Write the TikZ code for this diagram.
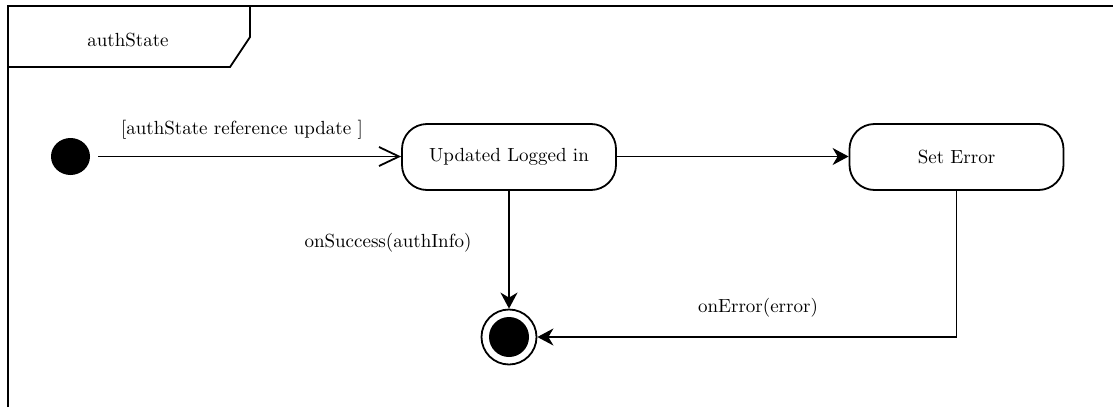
\documentclass[tikz,border=0pt]{standalone}
\usetikzlibrary{arrows.meta,shapes.geometric}
\begin{document}
\begin{tikzpicture}[x=0.5pt,y=-0.5pt,
  every node/.style={font=\fontsize{9.5}{11}\selectfont, inner sep=0pt},
  ln/.style={line width=0.9pt, black},
  statebox/.style={draw, line width=0.9pt, rounded corners=12.5pt, minimum width=107pt, minimum height=33pt},
  filledtip/.style={-{Stealth[length=8pt,width=8.5pt,inset=2.5pt]}},
  opentip/.style={-{Straight Barb[length=10pt,width=9.5pt,line width=0.9pt]}}]
\useasboundingbox (0,0) rectangle (1113,407);
% frame
\draw[ln] (8,407) -- (8,6) -- (1113,6);
\draw[ln] (250,6) -- (250,37) -- (230,67) -- (8,67);
\node (title) at (128,40) {authState};
% nodes
\node[ellipse, fill=black, minimum width=19.5pt, minimum height=18.5pt] (init) at (70.5,156.5) {};
\node[statebox] (upd) at (509,157) {Updated Logged in};
\node[statebox] (err) at (956.5,157) {Set Error};
\node[circle, draw, line width=0.9pt, minimum size=27.5pt] (final) at (509,337) {};
\node[circle, fill=black, minimum size=20pt] (finalin) at (509,337) {};
% edges
\draw[ln, opentip, shorten <=4pt] (init) -- (upd.west |- init);
\draw[ln, filledtip] (upd.east |- init) -- (err.west |- init);
\draw[ln, filledtip] (upd.south) -- (final.north);
\draw[ln, filledtip] (err.south) |- (final.east);
% labels
\node (l1) at (242,130) {[authState reference update ]};
\node (l2) at (388,243) {onSuccess(authInfo)};
\node (l3) at (758,308) {onError(error)};
\end{tikzpicture}
\end{document}
